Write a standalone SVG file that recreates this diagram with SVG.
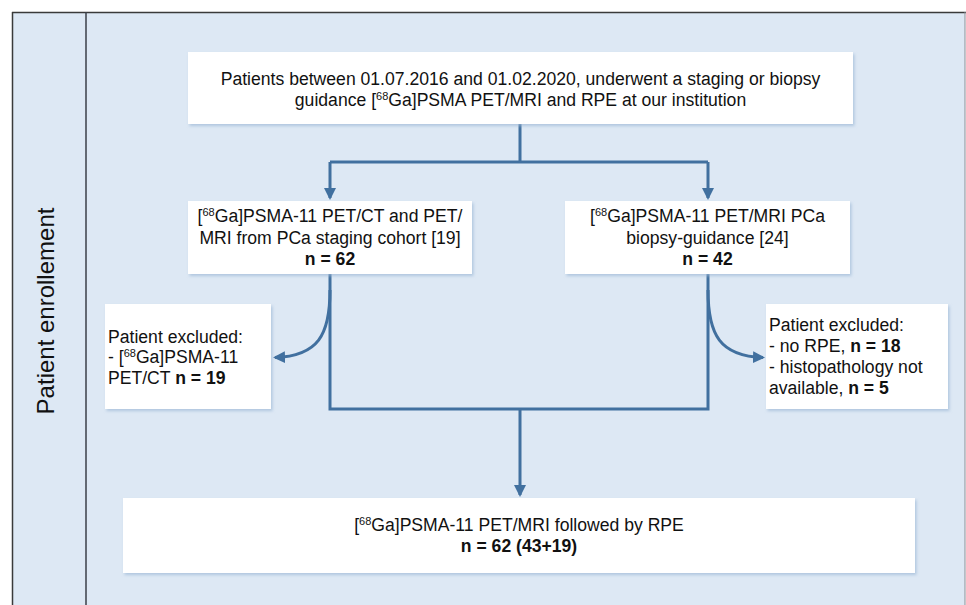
<svg xmlns="http://www.w3.org/2000/svg" width="966" height="605" viewBox="0 0 966 605">
<defs>
<style>
.bx{fill:#ffffff;filter:url(#sh)}
.t{font-family:"Liberation Sans",Arial,sans-serif;font-size:17.6px;fill:#111111}
.m{text-anchor:middle}
.b{font-weight:bold}
.sup{font-size:11px}
.ln{fill:none;stroke:#41709f;stroke-width:3}
</style>
<filter id="sh" x="-10%" y="-10%" width="120%" height="130%">
<feDropShadow dx="1.5" dy="2" stdDeviation="1.8" flood-color="#9db8d6" flood-opacity="0.7"/>
</filter>
<marker id="ah" viewBox="0 0 12 12" refX="10" refY="6" markerWidth="12" markerHeight="12" markerUnits="userSpaceOnUse" orient="auto">
<path d="M0,0 L12,6 L0,12 z" fill="#41709f"/>
</marker>
</defs>
<g id="frame">
<rect x="12" y="12" width="953" height="600" fill="#dde8f4"/>
<line x1="12" y1="12.5" x2="966" y2="12.5" stroke="#3a3a3a" stroke-width="1.5"/>
<line x1="12.5" y1="12" x2="12.5" y2="605" stroke="#3a3a3a" stroke-width="1.5"/>
<line x1="86" y1="12" x2="86" y2="605" stroke="#3a3f48" stroke-width="1.5"/>
<line x1="965" y1="12" x2="965" y2="605" stroke="#8a8f96" stroke-width="1"/>
<text class="t" style="font-size:24px" text-anchor="middle" transform="translate(53.5,311) rotate(-90)">Patient enrollement</text>
</g>
<g id="connectors">
<path class="ln" d="M520,124 V162 M330,162 H708"/>
<path class="ln" d="M330,162 V198" marker-end="url(#ah)"/>
<path class="ln" d="M708,162 V198" marker-end="url(#ah)"/>
<path class="ln" d="M330,274 V409 H708 V274"/>
<path class="ln" d="M330,290 C330,335 318,356 275,357.5" marker-end="url(#ah)"/>
<path class="ln" d="M708,290 C708,335 720,356 763,357.5" marker-end="url(#ah)"/>
<path class="ln" d="M520,409 V495" marker-end="url(#ah)"/>
</g>
<g id="n-top">
<rect class="bx" x="188" y="52" width="665" height="72"/>
<text class="t m" x="520.5" y="85">Patients between 01.07.2016 and 01.02.2020, underwent a staging or biopsy</text>
<text class="t m" x="520.5" y="106">guidance [<tspan class="sup" dy="-6">68</tspan><tspan dy="6">Ga]PSMA PET/MRI and RPE at our institution</tspan></text>
</g>
<g id="n-staging">
<rect class="bx" x="188" y="201" width="284" height="73"/>
<text class="t m" x="330" y="222">[<tspan class="sup" dy="-6">68</tspan><tspan dy="6">Ga]PSMA-11 PET/CT and PET/</tspan></text>
<text class="t m" x="330" y="244">MRI from PCa staging cohort [19]</text>
<text class="t m b" x="330" y="265">n = 62</text>
</g>
<g id="n-biopsy">
<rect class="bx" x="565" y="201" width="285" height="73"/>
<text class="t m" x="707.5" y="222">[<tspan class="sup" dy="-6">68</tspan><tspan dy="6">Ga]PSMA-11 PET/MRI PCa</tspan></text>
<text class="t m" x="707.5" y="244">biopsy-guidance [24]</text>
<text class="t m b" x="707.5" y="265">n = 42</text>
</g>
<g id="n-excl-left">
<rect class="bx" x="105" y="304" width="166" height="105"/>
<text class="t" x="108" y="343">Patient excluded:</text>
<text class="t" x="108" y="363">- [<tspan class="sup" dy="-6">68</tspan><tspan dy="6">Ga]PSMA-11</tspan></text>
<text class="t" x="108" y="384">PET/CT <tspan class="b">n = 19</tspan></text>
</g>
<g id="n-excl-right">
<rect class="bx" x="766" y="304" width="182" height="105"/>
<text class="t" x="769" y="331">Patient excluded:</text>
<text class="t" x="769" y="352">- no RPE, <tspan class="b">n = 18</tspan></text>
<text class="t" x="769" y="373">- histopathology not</text>
<text class="t" x="769" y="394">available, <tspan class="b">n = 5</tspan></text>
</g>
<g id="n-final">
<rect class="bx" x="123" y="498" width="792" height="75"/>
<text class="t m" x="519" y="531">[<tspan class="sup" dy="-6">68</tspan><tspan dy="6">Ga]PSMA-11 PET/MRI followed by RPE</tspan></text>
<text class="t m b" x="519" y="552">n = 62 (43+19)</text>
</g>
</svg>
